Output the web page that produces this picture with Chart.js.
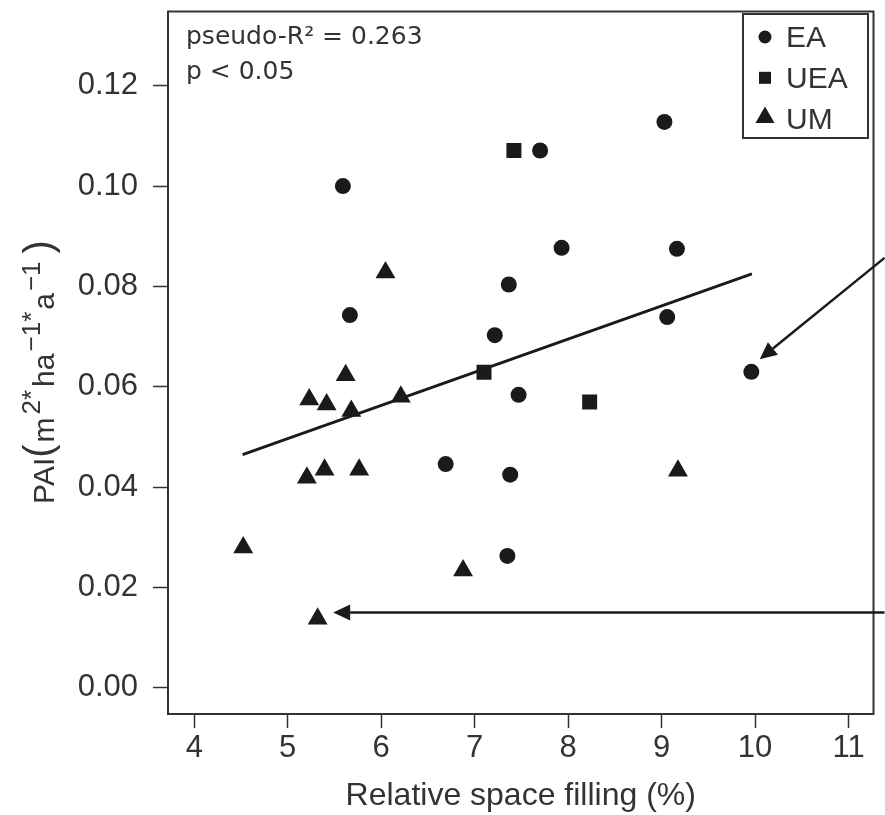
<!DOCTYPE html>
<html>
<head>
<meta charset="utf-8">
<script src="https://cdn.jsdelivr.net/npm/chart.js@4.4.1/dist/chart.umd.min.js"></script>
<style>
  html, body { margin: 0; padding: 0; background: #fff; }
  #wrap { width: 885px; height: 815px; }
</style>
</head>
<body>
<div id="wrap"><canvas id="myChart" width="885" height="815"></canvas></div>
<script>
"use strict";

// EA sites
var eaX = [5.59, 5.665, 6.69, 7.215, 7.35, 7.365, 7.38, 7.47, 7.70, 7.93, 9.03, 9.06, 9.164, 9.96];
var eaY = [0.1000, 0.0743, 0.0446, 0.0703, 0.0263, 0.0804, 0.0425, 0.0584, 0.1071, 0.0877, 0.1128, 0.0739, 0.0875, 0.0630];

// UEA sites
var ueaX = [7.42, 7.10, 8.23];
var ueaY = [0.1071, 0.0629, 0.0570];

// UM sites
var umX = [6.046, 5.62, 5.23, 5.416, 5.68, 6.21, 5.205, 5.394, 5.764, 4.524, 5.32, 6.876, 9.175];
var umY = [0.0828, 0.0623, 0.0575, 0.0565, 0.0552, 0.0580, 0.0419, 0.0435, 0.0435, 0.0280, 0.0138, 0.0234, 0.0433];

// fitted line, end points
var fitX = [4.517, 9.966];
var fitY = [0.0465, 0.0825];

var xTicks = [4, 5, 6, 7, 8, 9, 10, 11];
var yTicks = [0, 0.02, 0.04, 0.06, 0.08, 0.10, 0.12];
var yTickLabels = ["0.00", "0.02", "0.04", "0.06", "0.08", "0.10", "0.12"];

// arrows [fromX, fromY, toX, toY] in data units
var arrows = [
  [11.385, 0.0857, 10.05, 0.0655],
  [11.385, 0.01505, 5.486, 0.01505]
];

var statLines = ["pseudo-R\u00b2 = 0.263", "p < 0.05"];
var groups = ["EA", "UEA", "UM"];
var ink = "#1a1a1a";
var gray = "#333333";

function pts(xs, ys) {
  return xs.map(function (x, i) { return { x: x, y: ys[i] }; });
}

var extras = {
  id: "extras",
  afterDraw: function (chart) {
    var ctx = chart.ctx;
    var a = chart.chartArea;
    var xs = chart.scales.x;
    var ys = chart.scales.y;
    ctx.save();

    // frame
    ctx.strokeStyle = gray;
    ctx.lineWidth = 2;
    ctx.strokeRect(a.left, a.top, a.right - a.left, a.bottom - a.top);

    // arrows
    ctx.strokeStyle = ink;
    ctx.fillStyle = ink;
    ctx.lineWidth = 2.5;
    arrows.forEach(function (ar) {
      var x0 = xs.getPixelForValue(ar[0]), y0 = ys.getPixelForValue(ar[1]);
      var x1 = xs.getPixelForValue(ar[2]), y1 = ys.getPixelForValue(ar[3]);
      var ang = Math.atan2(y1 - y0, x1 - x0);
      var len = 17, half = 8;
      var bx = x1 - Math.cos(ang) * len, by = y1 - Math.sin(ang) * len;
      ctx.beginPath();
      ctx.moveTo(x0, y0);
      ctx.lineTo(bx, by);
      ctx.stroke();
      ctx.beginPath();
      ctx.moveTo(x1, y1);
      ctx.lineTo(bx + Math.sin(ang) * half, by - Math.cos(ang) * half);
      ctx.lineTo(bx - Math.sin(ang) * half, by + Math.cos(ang) * half);
      ctx.closePath();
      ctx.fill();
    });

    // stats
    ctx.fillStyle = gray;
    ctx.font = "25px 'DejaVu Sans'";
    ctx.textAlign = "left";
    ctx.textBaseline = "alphabetic";
    ctx.fillText(statLines[0], 186, 44);
    ctx.fillText(statLines[1], 186, 79);

    // legend
    var lx = 743, ly = 14, lw = 125, lh = 124;
    ctx.fillStyle = "#fff";
    ctx.fillRect(lx, ly, lw, lh);
    ctx.strokeStyle = gray;
    ctx.lineWidth = 2;
    ctx.strokeRect(lx, ly, lw, lh);
    var styles = [["circle", 6.5], ["rect", 8.5], ["triangle", 11]];
    ctx.font = "30px 'Liberation Sans'";
    groups.forEach(function (g, i) {
      var base = 47 + i * 40.8;
      ctx.fillStyle = ink;
      Chart.helpers.drawPoint(ctx, { pointStyle: styles[i][0], radius: styles[i][1], rotation: 0, borderWidth: 0 },
        765, base - (i === 2 ? 11 : 10));
      ctx.fillStyle = gray;
      ctx.fillText(g, 786, base);
    });

    // y title with superscripts: [text, size, rise, gap after]
    var parts = [["PAI", 30, 0, 0], ["(", 40, 2, 2], ["m", 30, 0, 3], ["2*", 26, 14, 3], ["ha", 30, 0, 2],
      ["\u22121*", 26, 14, 2], ["a", 30, 0, 2], ["\u22121", 26, 14, 8], [")", 40, 2, 0]];
    var total = 0;
    parts.forEach(function (p) {
      ctx.font = p[1] + "px 'Liberation Sans'";
      p.push(ctx.measureText(p[0]).width);
      total += p[4] + p[3];
    });
    ctx.translate(54, 372);
    ctx.rotate(-Math.PI / 2);
    ctx.fillStyle = gray;
    var cx = -total / 2;
    parts.forEach(function (p) {
      ctx.font = p[1] + "px 'Liberation Sans'";
      ctx.fillText(p[0], cx, -p[2]);
      cx += p[4] + p[3];
    });

    ctx.restore();
  }
};

var tickFont = { family: "Liberation Sans", size: 31 };

new Chart(document.getElementById("myChart"), {
  type: "scatter",
  data: {
    datasets: [
      {
        label: "EA",
        data: pts(eaX, eaY),
        pointStyle: "circle",
        pointRadius: 8,
        backgroundColor: ink,
        borderWidth: 0
      },
      {
        label: "UEA",
        data: pts(ueaX, ueaY),
        pointStyle: "rect",
        pointRadius: 10.6,
        backgroundColor: ink,
        borderWidth: 0
      },
      {
        label: "UM",
        data: pts(umX, umY),
        pointStyle: "triangle",
        pointRadius: 11.5,
        backgroundColor: ink,
        borderWidth: 0
      },
      {
        type: "line",
        label: "fit",
        data: pts(fitX, fitY),
        borderColor: ink,
        borderWidth: 2.8,
        pointRadius: 0,
        fill: false
      }
    ]
  },
  options: {
    responsive: false,
    animation: false,
    layout: { padding: { top: 7, right: 11, left: 0, bottom: 0 } },
    plugins: {
      legend: { display: false },
      tooltip: { enabled: false },
      title: { display: false }
    },
    scales: {
      x: {
        type: "linear",
        min: 3.719,
        max: 11.267,
        afterBuildTicks: function (s) {
          s.ticks = xTicks.map(function (v) { return { value: v }; });
        },
        afterFit: function (s) {
          s.height = 101;
          s.paddingLeft = 0;
          s.paddingRight = 0;
        },
        grid: { drawOnChartArea: false, drawTicks: true, tickLength: 14, tickWidth: 1.5, tickColor: gray },
        border: { display: false },
        ticks: {
          font: tickFont, color: gray, padding: 2, maxRotation: 0, autoSkip: false,
          callback: function (v) { return String(v); }
        },
        title: {
          display: true,
          text: "Relative space filling (%)",
          font: { family: "Liberation Sans", size: 32, lineHeight: 1 },
          color: gray,
          padding: { top: 0, bottom: 3 }
        }
      },
      y: {
        type: "linear",
        min: -0.0052,
        max: 0.1348,
        afterBuildTicks: function (s) {
          s.ticks = yTicks.map(function (v) { return { value: v }; });
        },
        afterFit: function (s) {
          s.width = 168;
          s.paddingTop = 0;
          s.paddingBottom = 0;
        },
        grid: { drawOnChartArea: false, drawTicks: true, tickLength: 15, tickWidth: 1.5, tickColor: gray },
        border: { display: false },
        ticks: {
          font: tickFont, color: gray, padding: 15, autoSkip: false,
          callback: function (v, i) { return yTickLabels[i]; }
        }
      }
    }
  },
  plugins: [extras]
});
</script>
</body>
</html>
